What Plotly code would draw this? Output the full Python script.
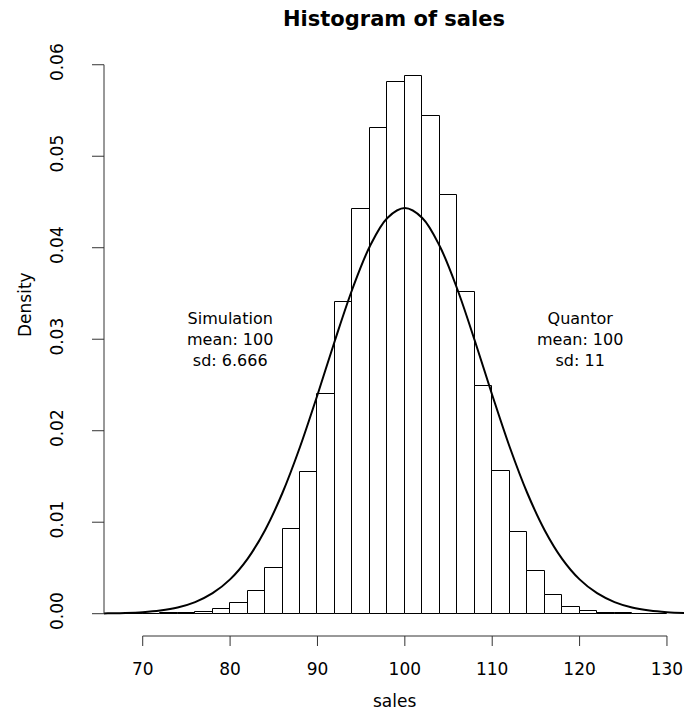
import plotly.graph_objects as go

# Histogram of simulated sales (density scale, bin width 2)
bin_edges = list(range(68, 132, 2))
density = [
    0.00001, 0.00001, 0.00003, 0.00007, 0.00019, 0.00050, 0.00114, 0.00253,
    0.00501, 0.00922, 0.01549, 0.02398, 0.03410, 0.04420, 0.05310, 0.05814,
    0.05880, 0.05440, 0.04580, 0.03520, 0.02485, 0.01563, 0.00890, 0.00463,
    0.00208, 0.00077, 0.00026, 0.00008, 0.00003, 0.00001, 0.00000,
]

# Overlaid density curve
curve_x = list(range(64, 136, 2))
curve_y = [
    0.00001, 0.00004, 0.00008, 0.00017, 0.00035, 0.00068, 0.00127, 0.00224,
    0.00375, 0.00600, 0.00913, 0.01322, 0.01822, 0.02391, 0.02986, 0.03549,
    0.04016, 0.04325, 0.04433, 0.04325, 0.04016, 0.03549, 0.02986, 0.02391,
    0.01822, 0.01322, 0.00913, 0.00600, 0.00375, 0.00224, 0.00127, 0.00068,
    0.00035, 0.00017, 0.00008, 0.00004,
]

x_ticks = [70, 80, 90, 100, 110, 120, 130]
y_ticks = [0.00, 0.01, 0.02, 0.03, 0.04, 0.05, 0.06]
y_tick_text = ["0.00", "0.01", "0.02", "0.03", "0.04", "0.05", "0.06"]

notes = [
    (80, 0.03, ["Simulation", "mean: 100", "sd: 6.666"]),
    (120, 0.03, ["Quantor", "mean: 100", "sd: 11"]),
]

FONT = "DejaVu Sans"
INK = "#000000"
AXIS_INK = "#333333"
CLEAR = "rgba(0,0,0,0)"

centers = [(a + b) / 2 for a, b in zip(bin_edges[:-1], bin_edges[1:])]
widths = [b - a for a, b in zip(bin_edges[:-1], bin_edges[1:])]

fig = go.Figure()
fig.add_trace(go.Bar(
    x=centers, y=density, width=widths,
    marker=dict(color="white", line=dict(color=INK, width=1)),
    hoverinfo="skip",
))
fig.add_trace(go.Scatter(
    x=curve_x, y=curve_y, mode="lines",
    line=dict(color=INK, width=2, shape="spline", smoothing=1.0),
    hoverinfo="skip",
))

# Axis lines spanning only the tick range
fig.add_shape(type="line", xref="paper", yref="y", x0=0, x1=0,
              y0=y_ticks[0], y1=y_ticks[-1], line=dict(color=AXIS_INK, width=1))
fig.add_shape(type="line", xref="x", yref="paper", x0=x_ticks[0], x1=x_ticks[-1],
              y0=0, y1=0, line=dict(color=AXIS_INK, width=1))

# Short tick marks (the axis ticks themselves are left transparent so the
# labels sit further out)
for v in x_ticks:
    fig.add_shape(type="line", xref="x", yref="paper", x0=v, x1=v,
                  ysizemode="pixel", yanchor=0, y0=0, y1=-10,
                  line=dict(color=AXIS_INK, width=1))
for v in y_ticks:
    fig.add_shape(type="line", xref="paper", yref="y", y0=v, y1=v,
                  xsizemode="pixel", xanchor=0, x0=0, x1=-12,
                  line=dict(color=AXIS_INK, width=1))

for nx, ny, lines in notes:
    fig.add_annotation(
        x=nx, y=ny, xref="x", yref="y", text="<br>".join(lines),
        showarrow=False, align="center", xanchor="center", yanchor="middle",
        borderpad=0, font=dict(family=FONT, size=16, color=INK),
    )

fig.add_annotation(
    x=0.5, y=-76 / 602, xref="paper", yref="paper", text="sales", showarrow=False,
    xanchor="center", yanchor="bottom", borderpad=0,
    font=dict(family=FONT, size=17, color=INK),
)
fig.add_annotation(
    x=-0.136, y=0.55, xref="paper", yref="paper", text="Density", showarrow=False,
    textangle=-90, xanchor="center", yanchor="middle",
    font=dict(family=FONT, size=17, color=INK),
)

fig.update_layout(
    width=684, height=712,
    margin=dict(l=104, r=0, t=34, b=76),
    paper_bgcolor="white", plot_bgcolor="white",
    showlegend=False, bargap=0,
    title=dict(
        text="<b>Histogram of sales</b>", x=0.5, xref="paper",
        y=1 - 19 / 712, yref="container", yanchor="middle",
        font=dict(family=FONT, size=21, color=INK),
    ),
    xaxis=dict(
        range=[65.57, 131.95], tickvals=x_ticks, ticks="outside", ticklen=18,
        tickwidth=1, tickcolor=CLEAR, showline=False, showgrid=False,
        zeroline=False, tickfont=dict(family=FONT, size=17, color=INK),
    ),
    yaxis=dict(
        range=[-0.002437, 0.06336], tickvals=y_ticks, ticktext=y_tick_text,
        tickangle=-90, ticks="outside", ticklen=33, tickwidth=1,
        tickcolor=CLEAR, showline=False, showgrid=False, zeroline=False,
        tickfont=dict(family=FONT, size=17, color=INK),
    ),
)

fig.write_html("out.html")
